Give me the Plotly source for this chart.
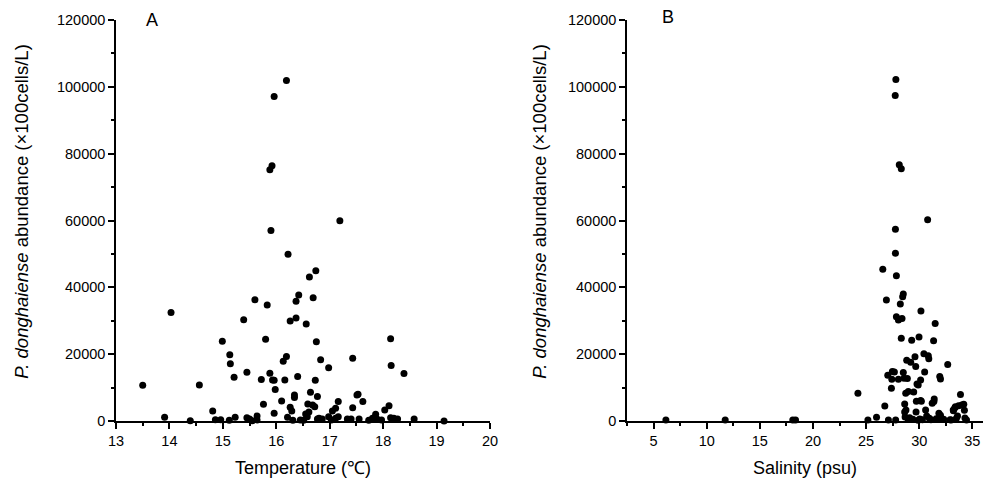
import plotly.graph_objects as go

# Panel A: temperature (°C) vs abundance (x100 cells/L)
temp_A = [13.50, 13.91, 14.03, 14.39, 14.56, 14.81, 14.86, 14.96, 14.99, 15.12,
          15.13, 15.14, 15.21, 15.23, 15.39, 15.45, 15.45, 15.50, 15.55, 15.60,
          15.64, 15.64, 15.72, 15.76, 15.80, 15.83, 15.88, 15.88, 15.90, 15.92,
          15.93, 15.96, 15.96, 15.96, 15.98, 16.10, 16.13, 16.16, 16.19, 16.19,
          16.21, 16.22, 16.26, 16.26, 16.29, 16.31, 16.34, 16.34, 16.37, 16.37,
          16.40, 16.42, 16.45, 16.51, 16.55, 16.56, 16.58, 16.59, 16.61, 16.62,
          16.64, 16.68, 16.69, 16.72, 16.73, 16.74, 16.75, 16.77, 16.77, 16.80,
          16.83, 16.86, 16.98, 16.98, 17.03, 17.05, 17.11, 17.11, 17.16, 17.16,
          17.19, 17.33, 17.40, 17.43, 17.43, 17.51, 17.53, 17.55, 17.62, 17.73,
          17.80, 17.86, 17.89, 17.97, 18.03, 18.11, 18.14, 18.15, 18.14, 18.20,
          18.27, 18.39, 18.58, 19.14]
abund_A = [10700, 1100, 32500, 100, 10800, 3000, 400, 400, 23900, 200,
           19800, 17100, 13100, 1100, 30300, 14600, 1000, 600, 100, 36300,
           1500, 300, 12400, 5000, 24500, 34700, 14300, 75200, 57000, 76400,
           12300, 12200, 2300, 97100, 9400, 6000, 17900, 12300, 19300, 101900,
           1100, 49900, 29900, 4100, 3000, 200, 7800, 7000, 35800, 30800,
           13300, 37700, 300, 200, 2100, 29000, 1300, 5100, 2700, 43100,
           8600, 4800, 36900, 4300, 12200, 45000, 23700, 7300, 600, 800,
           18300, 600, 15900, 1300, 300, 3000, 3800, 800, 5800, 1300,
           59900, 600, 600, 4000, 18800, 7800, 8000, 600, 5800, 200,
           800, 2000, 500, 300, 3300, 4600, 24600, 16600, 1000, 800,
           600, 14200, 600, 0]

# Panel B: salinity (psu) vs abundance
sal_B = [6.16, 11.74, 18.10, 18.36, 24.23, 25.17, 25.98, 26.57, 26.76, 26.91,
         27.04, 27.10, 27.38, 27.42, 27.47, 27.66, 27.74, 27.76, 27.76, 27.78,
         27.80, 27.85, 27.85, 28.04, 28.04, 28.12, 28.22, 28.31, 28.31, 28.38,
         28.44, 28.50, 28.50, 28.57, 28.63, 28.63, 28.67, 28.75, 28.73, 28.82,
         28.88, 28.97, 28.95, 29.10, 29.20, 29.29, 29.48, 29.60, 29.67, 29.73,
         29.70, 29.79, 29.90, 29.98, 30.05, 30.13, 30.13, 30.16, 30.20, 30.44,
         30.51, 30.60, 30.70, 30.79, 30.85, 30.90, 30.95, 31.10, 31.22, 31.35,
         31.38, 31.41, 31.50, 31.60, 31.85, 31.93, 32.00, 32.00, 32.30, 32.68,
         32.90, 33.20, 33.22, 33.35, 33.40, 33.50, 33.60, 33.70, 33.88, 34.00,
         34.19, 34.25, 34.30, 34.45, 29.40, 29.90, 30.30, 31.90, 33.00]
abund_B = [300, 300, 300, 300, 8300, 300, 1100, 45400, 4500, 36200,
           13700, 300, 9800, 12500, 14800, 14700, 97400, 57400, 50200, 300,
           102200, 43500, 31200, 12500, 30200, 76700, 35000, 75500, 24800, 30700,
           37200, 38000, 14500, 12800, 5100, 2700, 1200, 3300, 8300, 18200,
           12700, 8800, 600, 1000, 17600, 24200, 8700, 19200, 16300, 5900,
           2700, 11100, 10800, 25100, 600, 12300, 6100, 32900, 5900, 20100,
           14700, 3300, 1500, 60200, 19500, 18600, 800, 400, 5300, 24000,
           5800, 6600, 29200, 700, 2300, 13300, 12600, 1700, 500, 16900,
           400, 3300, 3100, 4000, 4300, 800, 1500, 4600, 7900, 4800,
           5000, 3200, 900, 300, 500, 200, 400, 600, 300]

y_ticks = [0, 20000, 40000, 60000, 80000, 100000, 120000]
y_title = "<i>P. donghaiense</i> abundance (×100cells/L)"

W, H = 995, 488
FONT = "Liberation Sans, Arial, sans-serif"

fig = go.Figure()
marker = dict(color="black", size=7, line=dict(width=0))
fig.add_trace(go.Scatter(x=temp_A, y=abund_A, mode="markers", marker=marker,
                         xaxis="x", yaxis="y", cliponaxis=False, showlegend=False))
fig.add_trace(go.Scatter(x=sal_B, y=abund_B, mode="markers", marker=marker,
                         xaxis="x2", yaxis="y2", cliponaxis=False, showlegend=False))

common_axis = dict(showgrid=False, zeroline=False, showline=True, linecolor="black",
                   linewidth=1.5, ticks="outside", ticklen=6, tickwidth=1.5,
                   tickcolor="black", automargin=False,
                   tickfont=dict(size=14.5, color="black", family=FONT))
minor = dict(ticks="outside", ticklen=3, tickwidth=1.5, tickcolor="black", showgrid=False)

fig.update_layout(
    width=W, height=H, paper_bgcolor="white", plot_bgcolor="white",
    margin=dict(l=0, r=0, t=20, b=67),
    font=dict(family=FONT, color="black"),
    xaxis=dict(domain=[116 / W, 490 / W], range=[13, 20], dtick=1, tick0=13,
               anchor="y", minor=dict(dtick=0.5, **minor),
               title=dict(text="Temperature (℃)", font=dict(size=18), standoff=13),
               **common_axis),
    yaxis=dict(domain=[0, 1], range=[0, 120000], tickvals=y_ticks, tickformat="d",
               anchor="x", minor=dict(dtick=10000, **minor), **common_axis),
    xaxis2=dict(domain=[627 / W, 983 / W], range=[2.5, 36], dtick=5, tick0=5,
                anchor="y2", minor=dict(dtick=2.5, tick0=2.5, **minor),
                title=dict(text="Salinity (psu)", font=dict(size=18), standoff=13),
                **common_axis),
    yaxis2=dict(domain=[0, 1], range=[0, 120000], tickvals=y_ticks, tickformat="d",
                anchor="x2", minor=dict(dtick=10000, **minor), **common_axis),
    annotations=[
        dict(text=y_title, textangle=-90, x=22 / W, y=0.522, xref="paper", yref="paper",
             showarrow=False, font=dict(size=18.5), xanchor="center", yanchor="middle"),
        dict(text=y_title, textangle=-90, x=540 / W, y=0.522, xref="paper", yref="paper",
             showarrow=False, font=dict(size=18.5), xanchor="center", yanchor="middle"),
        dict(text="A", x=152 / W, y=1.0, xref="paper", yref="paper", showarrow=False,
             font=dict(size=18), xanchor="center", yanchor="middle"),
        dict(text="B", x=668 / W, y=1.007, xref="paper", yref="paper", showarrow=False,
             font=dict(size=18), xanchor="center", yanchor="middle"),
    ],
)

fig.write_html("out.html", config={"displayModeBar": False},
               post_script="document.body.style.margin='0px';")
